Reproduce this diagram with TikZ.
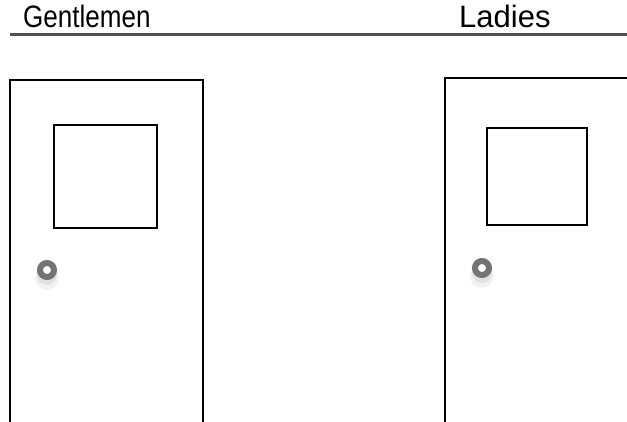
\documentclass[tikz,border=0pt]{standalone}
\usepackage{fontspec}
\setmainfont{Liberation Sans}
\usetikzlibrary{positioning,calc}
\definecolor{rule}{RGB}{80,80,80}
\definecolor{knob}{RGB}{115,115,115}
\newcommand{\signfont}{\fontsize{31}{33}\selectfont}
\tikzset{
  doorline/.style={draw=black, line width=2.3pt},
  sign/.style={font=\signfont, inner sep=0pt, anchor=base west},
  knobring/.style={draw=knob, line width=6pt, fill=white},
}
\newcommand{\doorknob}[1]{%
  \fill[black, opacity=0.05] ($#1+(0,8)$) circle (12);
  \fill[black, opacity=0.07] ($#1+(0,5)$) circle (10);
  \draw[knobring] #1 circle (7);
}
\begin{document}
\begin{tikzpicture}[x=1pt, y=-1pt]
  \useasboundingbox (0,0) rectangle (627,422);
  % signs over the doors
  \node[sign] (gent) at (23,28) {\scalebox{0.84}[1]{\signfont Gentlemen}};
  \node[sign] (ladies) at (459,28) {Ladies};
  \draw[rule, line width=3pt] (10,34.5) -- (627,34.5);
  % left door
  \draw[doorline] (10,80) rectangle (203,430);
  \draw[doorline] (54,125) rectangle (157,228);
  \doorknob{(47,270)}
  % right door
  \draw[doorline] (445,78) rectangle (640,430);
  \draw[doorline] (487,128) rectangle (587,225);
  \doorknob{(482,268)}
\end{tikzpicture}
\end{document}
